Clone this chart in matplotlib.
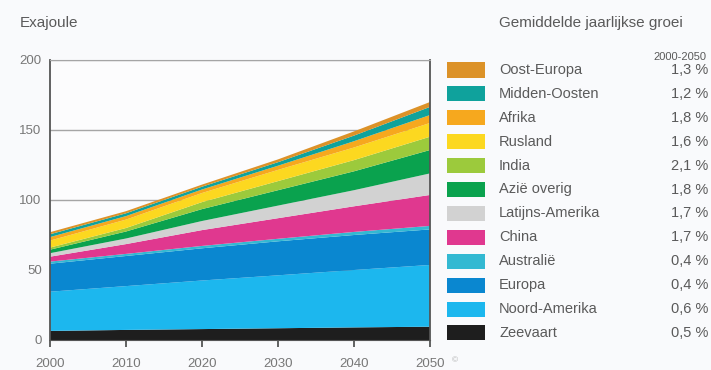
import matplotlib.pyplot as plt
from matplotlib.patches import Rectangle

plt.rcParams['font.family'] = ['Liberation Sans', 'DejaVu Sans']

years = [2000, 2010, 2020, 2030, 2040, 2050]

# energy use per region in exajoule, listed from the bottom of the stack up
zeevaart = [6.5, 7.2, 7.8, 8.4, 9.0, 9.5]
noord_amerika = [28.0, 31.3, 34.7, 37.8, 41.0, 44.1]
europa = [20.0, 21.5, 23.0, 24.3, 25.0, 25.4]
australie = [1.5, 1.5, 1.7, 1.8, 2.2, 2.5]
china = [3.5, 7.0, 11.3, 14.7, 18.3, 22.1]
latijns_amerika = [2.5, 4.0, 6.5, 9.0, 11.5, 15.4]
azie_overig = [2.5, 5.0, 8.5, 11.0, 13.5, 16.7]
india = [1.5, 2.5, 5.0, 6.5, 8.0, 9.5]
rusland = [5.0, 6.0, 6.5, 8.0, 9.0, 9.8]
afrika = [2.5, 2.5, 2.5, 3.0, 4.5, 5.7]
midden_oosten = [2.0, 2.0, 2.0, 2.5, 4.0, 5.8]
oost_europa = [1.5, 1.5, 1.5, 2.0, 3.0, 3.5]

regions = ['Zeevaart', 'Noord-Amerika', 'Europa', 'Australië', 'China',
           'Latijns-Amerika', 'Azië overig', 'India', 'Rusland', 'Afrika',
           'Midden-Oosten', 'Oost-Europa']
growth = ['0,5 %', '0,6 %', '0,4 %', '0,4 %', '1,7 %', '1,7 %',
          '1,8 %', '2,1 %', '1,6 %', '1,8 %', '1,2 %', '1,3 %']
colors = ['#1e1e1e', '#1cb7ee', '#0a87d0', '#33b9d2', '#e0388f', '#d2d2d2',
          '#0aa24e', '#9cca3c', '#fcd820', '#f6a81e', '#0fa29c', '#dc9228']

series = [zeevaart, noord_amerika, europa, australie, china, latijns_amerika,
          azie_overig, india, rusland, afrika, midden_oosten, oost_europa]

W, H = 711, 370
bg = '#f9fafc'
txt = '#5a5a5a'

fig = plt.figure(figsize=(W / 100, H / 100), dpi=100, facecolor=bg)
ax = fig.add_axes([50 / W, 30 / H, 380 / W, 280 / H])
ax.set_facecolor('#fcfcfd')

ax.stackplot(years, series, colors=colors, linewidth=0)

ax.set_xlim(2000, 2050)
ax.set_ylim(0, 200)
ax.set_xticks(range(2000, 2051, 10))
ax.set_yticks(range(0, 201, 50))
ax.yaxis.grid(True, color='#a5a5a5', lw=1)
ax.set_axisbelow(True)

for side in ['left', 'right']:
    ax.spines[side].set_color('#555555')
    ax.spines[side].set_linewidth(1.3)
ax.spines['top'].set_color('#a5a5a5')
ax.spines['bottom'].set_color('#555555')

ax.tick_params(axis='x', direction='out', length=5, width=1.3,
               color='#555555', labelcolor='#777777', labelsize=9.5, pad=8)
ax.tick_params(axis='y', length=0, labelcolor='#777777', labelsize=9.5, pad=6)

fig.text(20 / W, 1 - 23 / H, 'Exajoule', fontsize=11, color=txt, va='center')


def fy(y):
    return 1 - y / H


# legend, top row is the top of the stack
fig.text(499 / W, fy(23), 'Gemiddelde jaarlijkse groei', fontsize=11,
         color=txt, va='center')
fig.text(706 / W, fy(57), '2000-2050', fontsize=8, color=txt,
         va='center', ha='right')

row0, step = 70, 23.9
for i, (name, g, c) in enumerate(zip(regions[::-1], growth[::-1], colors[::-1])):
    yc = row0 + i * step
    fig.patches.append(Rectangle((447 / W, fy(yc + 7.5)), 38 / W, 15 / H,
                                 transform=fig.transFigure, color=c, lw=0))
    fig.text(499 / W, fy(yc), name, fontsize=10.5, color=txt, va='center')
    fig.text(708 / W, fy(yc), g, fontsize=10.5, color=txt, va='center',
             ha='right')

fig.text(452 / W, fy(361), '©', fontsize=6, color='#b0b0b0', va='center')

fig.savefig('out.png', dpi=100, facecolor=bg)
